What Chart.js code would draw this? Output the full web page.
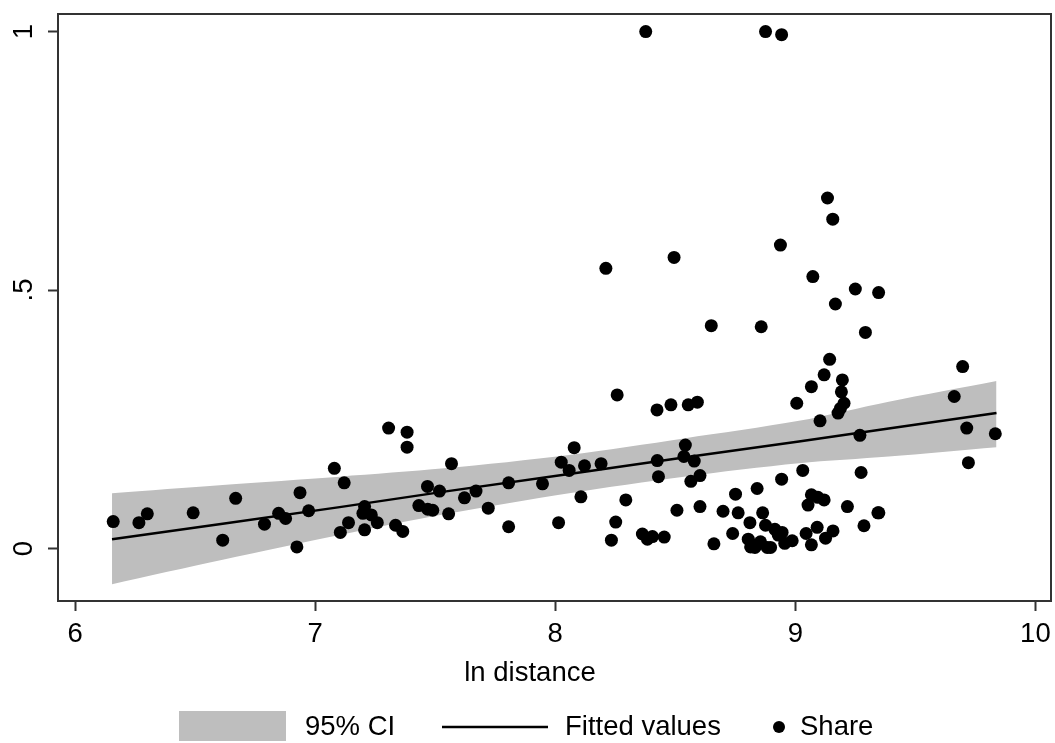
<!DOCTYPE html>
<html>
<head>
<meta charset="utf-8">
<script src="https://cdn.jsdelivr.net/npm/chart.js@4.4.1/dist/chart.umd.min.js"></script>
<style>
  body { margin: 0; background: #fff; }
  #wrap { width: 1055px; height: 743px; }
</style>
</head>
<body>
<div id="wrap"><canvas id="myChart"></canvas></div>
<script>
// scatter: ln distance vs share
const shareX = [6.159, 6.266, 6.301, 6.492, 6.615, 6.669, 6.789, 6.848, 6.877, 6.924,
  6.937, 6.973, 7.080, 7.121, 7.105, 7.139, 7.206, 7.199, 7.234, 7.206,
  7.259, 7.306, 7.383, 7.383, 7.335, 7.365, 7.432, 7.468, 7.518, 7.469,
  7.490, 7.556, 7.568, 7.622, 7.670, 7.721, 7.806, 7.806, 7.947, 8.014,
  8.025, 8.058, 8.079, 8.107, 8.122, 8.191, 8.234, 8.252, 8.258, 8.294,
  8.363, 8.384, 8.405, 8.454, 8.424, 8.482, 8.554, 8.592, 8.425, 8.430,
  8.542, 8.536, 8.579, 8.565, 8.603, 8.507, 8.603, 8.661, 8.699, 8.751,
  8.762, 8.739, 8.811, 8.804, 8.818, 8.841, 9.143, 9.120, 9.067, 9.196,
  9.192, 9.203, 9.188, 9.178, 9.006, 9.103, 9.269, 9.031, 9.274, 8.943,
  8.864, 9.067, 9.094, 9.120, 9.053, 9.217, 9.344, 9.286, 8.814, 8.832,
  8.855, 8.876, 8.883, 8.897, 8.915, 8.929, 8.945, 8.956, 8.987, 9.045,
  9.067, 9.091, 9.126, 9.157, 9.697, 9.662, 9.714, 9.833, 9.721, 8.377,
  8.876, 8.943, 9.134, 9.156, 8.938, 8.211, 8.495, 9.073, 9.250, 9.167,
  8.650, 8.858, 9.347, 9.292, 9.348];
const shareY = [0.052, 0.050, 0.067, 0.069, 0.016, 0.097, 0.047, 0.068, 0.058, 0.003,
  0.108, 0.073, 0.155, 0.127, 0.031, 0.050, 0.081, 0.068, 0.065, 0.036,
  0.050, 0.233, 0.225, 0.196, 0.045, 0.033, 0.083, 0.120, 0.111, 0.076,
  0.074, 0.067, 0.164, 0.098, 0.111, 0.078, 0.127, 0.042, 0.125, 0.050,
  0.167, 0.151, 0.195, 0.100, 0.160, 0.164, 0.016, 0.051, 0.297, 0.094,
  0.028, 0.018, 0.023, 0.022, 0.268, 0.278, 0.278, 0.283, 0.170, 0.139,
  0.200, 0.178, 0.169, 0.130, 0.141, 0.074, 0.081, 0.009, 0.072, 0.105,
  0.069, 0.029, 0.050, 0.018, 0.008, 0.116, 0.366, 0.336, 0.313, 0.326,
  0.303, 0.281, 0.271, 0.262, 0.281, 0.247, 0.219, 0.151, 0.147, 0.134,
  0.069, 0.104, 0.099, 0.094, 0.084, 0.081, 0.069, 0.044, 0.003, 0.002,
  0.013, 0.045, 0.002, 0.002, 0.037, 0.026, 0.031, 0.010, 0.015, 0.029,
  0.007, 0.041, 0.020, 0.034, 0.352, 0.294, 0.233, 0.222, 0.166, 1.000,
  1.000, 0.994, 0.678, 0.637, 0.587, 0.542, 0.563, 0.526, 0.502, 0.473,
  0.431, 0.429, 0.495, 0.418, 0.069];

// fitted line and 95% CI, read at a few x positions
const fitX   = [6.154, 6.615, 7.102, 7.538, 8.058, 8.536, 9.015, 9.389, 9.838];
const fitY   = [0.018, 0.048, 0.080, 0.110, 0.144, 0.176, 0.207, 0.232, 0.262];
const ciUpper = [0.107, 0.123, 0.139, 0.155, 0.181, 0.213, 0.247, 0.284, 0.324];
const ciLower = [-0.069, -0.022, 0.026, 0.066, 0.107, 0.139, 0.165, 0.178, 0.196];

const xTicks = [6, 7, 8, 9, 10];
const yTickLabels = { 0: '0', 0.5: '.5', 1: '1' };

const legendItems = ['95% CI', 'Fitted values', 'Share'];
const xTitle = 'ln distance';

const FONT = '"Liberation Sans", Arial, sans-serif';
const FS = 27.5;

function pts(xs, ys) {
  return xs.map((x, i) => ({ x: x, y: ys[i] }));
}

const extras = {
  id: 'extras',
  afterDraw(chart) {
    const ctx = chart.ctx;
    const a = chart.chartArea;
    ctx.save();
    // frame
    ctx.strokeStyle = '#333';
    ctx.lineWidth = 2;
    ctx.strokeRect(a.left, a.top, a.right - a.left, a.bottom - a.top);

    // x title
    ctx.fillStyle = '#000';
    ctx.font = FS + 'px ' + FONT;
    ctx.textAlign = 'center';
    ctx.textBaseline = 'middle';
    ctx.fillText(xTitle, 530, 673);

    // legend
    const ly = 727;
    ctx.textAlign = 'left';
    ctx.fillStyle = 'rgb(190,190,190)';
    ctx.fillRect(179, 711, 107, 30);
    ctx.fillStyle = '#000';
    ctx.fillText(legendItems[0], 305, ly);

    ctx.strokeStyle = '#000';
    ctx.lineWidth = 2.5;
    ctx.beginPath();
    ctx.moveTo(442, ly);
    ctx.lineTo(548, ly);
    ctx.stroke();
    ctx.fillText(legendItems[1], 565, ly);

    ctx.beginPath();
    ctx.arc(779, ly, 6, 0, Math.PI * 2);
    ctx.fill();
    ctx.fillText(legendItems[2], 800, ly);
    ctx.restore();
  }
};

const ctx = document.getElementById('myChart');

new Chart(ctx, {
  type: 'scatter',
  data: {
    datasets: [
      {
        type: 'line',
        label: 'lower',
        data: pts(fitX, ciLower),
        borderWidth: 0,
        pointRadius: 0,
        fill: false,
        tension: 0.3,
        order: 3
      },
      {
        type: 'line',
        label: '95% CI',
        data: pts(fitX, ciUpper),
        borderWidth: 0,
        pointRadius: 0,
        backgroundColor: 'rgb(190,190,190)',
        fill: '-1',
        tension: 0.3,
        order: 2
      },
      {
        type: 'line',
        label: 'Fitted values',
        data: pts(fitX, fitY),
        borderColor: '#000',
        borderWidth: 2.5,
        pointRadius: 0,
        fill: false,
        order: 1
      },
      {
        label: 'Share',
        data: pts(shareX, shareY),
        backgroundColor: '#000',
        borderWidth: 0,
        pointRadius: 6.5,
        order: 0
      }
    ]
  },
  options: {
    responsive: true,
    maintainAspectRatio: false,
    devicePixelRatio: 1,
    animation: false,
    layout: { autoPadding: false, padding: { top: 14, right: 4, bottom: 54, left: 0 } },
    plugins: {
      legend: { display: false },
      tooltip: { enabled: false }
    },
    scales: {
      x: {
        type: 'linear',
        min: 5.929,
        max: 10.065,
        afterFit: function(scale) { scale.height = 88; },
        afterBuildTicks: function(scale) { scale.ticks = xTicks.map(v => ({ value: v })); },
        border: { display: false },
        grid: { display: true, drawOnChartArea: false, tickLength: 10, tickColor: '#333', tickWidth: 2 },
        ticks: {
          color: '#000',
          padding: 0,
          maxRotation: 0,
          font: { family: FONT, size: FS, lineHeight: '47px' }
        }
      },
      y: {
        type: 'linear',
        min: -0.1016,
        max: 1.034,
        afterFit: function(scale) { scale.width = 58; },
        afterBuildTicks: function(scale) {
          scale.ticks = Object.keys(yTickLabels).map(k => ({ value: Number(k) }));
        },
        border: { display: false },
        grid: { display: true, drawOnChartArea: false, tickLength: 10, tickColor: '#333', tickWidth: 2 },
        ticks: {
          color: '#000',
          padding: 12,
          minRotation: 90,
          maxRotation: 90,
          crossAlign: 'center',
          font: { family: FONT, size: FS, lineHeight: '2px' },
          callback: function(value) { return yTickLabels[value]; }
        }
      }
    }
  },
  plugins: [extras]
});
</script>
</body>
</html>
